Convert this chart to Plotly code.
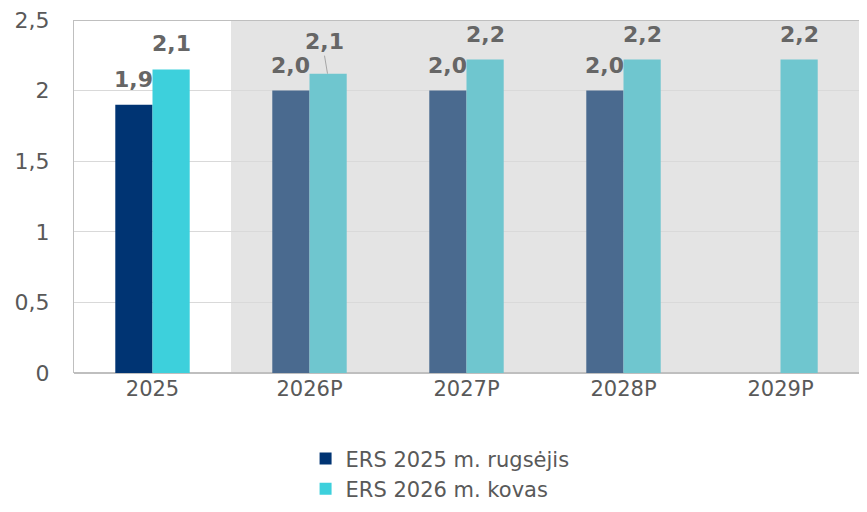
import plotly.graph_objects as go

categories = ["2025", "2026P", "2027P", "2028P", "2029P"]
ers_2025_sep = [1.9, 2.0, 2.0, 2.0, None]
ers_2026_mar = [2.15, 2.12, 2.22, 2.22, 2.22]
series_names = ["ERS 2025 m. rugsėjis", "ERS 2026 m. kovas"]

dark_colors = ["#003473"] + ["#4a6a8f"] * 4
cyan_colors = ["#3dd0dc"] + ["#6fc6cf"] * 4

FONT = "DejaVu Sans"
fig = go.Figure()
fig.add_trace(go.Bar(x=categories, y=ers_2025_sep, name=series_names[0],
                     marker=dict(color=dark_colors, line=dict(width=0))))
fig.add_trace(go.Bar(x=categories, y=ers_2026_mar, name=series_names[1],
                     marker=dict(color=cyan_colors, line=dict(width=0))))

# shaded forecast region
fig.add_shape(type="rect", xref="x", yref="y", x0=0.5, x1=4.5, y0=0, y1=2.5,
              fillcolor="#e4e4e4", line=dict(width=0), layer="below")

def fmt(v):
    return f"{v:.1f}".replace(".", ",")

lab_font = dict(family=FONT, size=22, color="#666666", weight="bold")
for i, c in enumerate(categories):
    for vals, shift in ((ers_2025_sep, -19), (ers_2026_mar, 19)):
        v = vals[i]
        if v is None:
            continue
        if c == "2026P" and shift > 0:
            fig.add_annotation(x=i, y=v, xshift=shift - 1, text=fmt(v), showarrow=True,
                               arrowhead=0, arrowwidth=1, arrowcolor="#a6a6a6",
                               ax=-3, ay=-18, yanchor="bottom", font=lab_font)
        else:
            fig.add_annotation(x=i, y=v, xshift=shift, yshift=11, text=fmt(v),
                               showarrow=False, yanchor="bottom", font=lab_font)

fig.update_layout(
    width=851, height=496,
    margin=dict(l=66, r=0, t=12, b=131, autoexpand=False),
    paper_bgcolor="white", plot_bgcolor="white",
    separators=", ",
    barmode="group", bargap=0.526, bargroupgap=0,
    font=dict(family=FONT, size=21, color="#595959"),
    showlegend=True,
    legend=dict(orientation="v", x=0.295, xanchor="left", y=-0.185, yanchor="top",
                font=dict(family=FONT, size=21, color="#595959"),
                itemsizing="constant", tracegroupgap=0),
)
fig.update_xaxes(showgrid=False, showline=False, ticks="", tickfont=dict(size=21),
                 range=[-0.5, 4.5], ticklabelstandoff=1, automargin=False)
fig.update_yaxes(range=[0, 2.5], dtick=0.5, showgrid=True, gridcolor="#d9d9d9",
                 gridwidth=1, showline=True, linecolor="#bfbfbf", mirror=False,
                 zeroline=True, zerolinecolor="#bfbfbf", ticks="",
                 tickfont=dict(size=22), ticklabelstandoff=19, automargin=False,
                 ticklabeloverflow="allow")
fig.add_shape(type="line", xref="paper", yref="y", x0=0, x1=1, y0=2.5, y1=2.5,
              line=dict(color="#bfbfbf", width=2))

fig.write_html("out.html")
